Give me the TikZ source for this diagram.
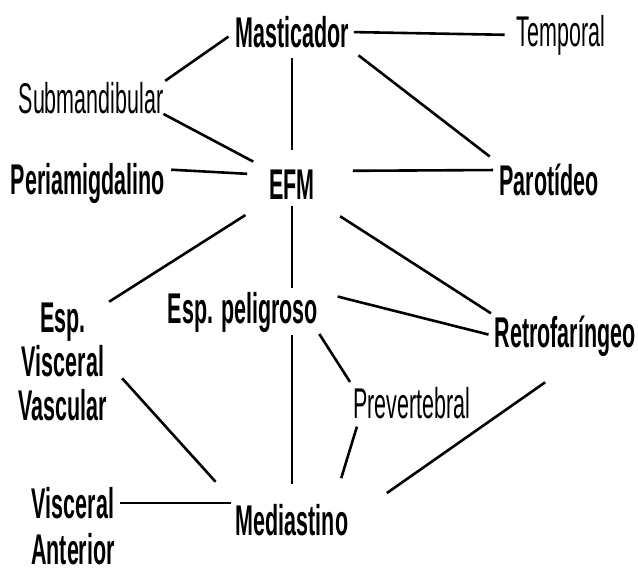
\documentclass[tikz,border=0pt]{standalone}
\usepackage{fontspec}
\setmainfont[FakeStretch=0.5]{Liberation Sans}
\usepackage{tikz}

\begin{document}
\begin{tikzpicture}[x=1pt,y=-1pt,
	lab/.style={inner sep=0pt,font=\fontsize{43}{44}\selectfont},
	blab/.style={lab,font=\fontsize{43}{44}\selectfont\bfseries},
	link/.style={line width=2.6pt}]
	\useasboundingbox (0,0) rectangle (638,574);
	% spaces
	\node[blab] (mast) at (292,32) {Masticador};
	\node[lab] (temp) at (561,35) {Temporal};
	\node[lab] (subm) at (91,98) {Submandibular};
	\node[blab] (peri) at (88,183) {Periamigdalino};
	\node[blab] (efm) at (292,185) {EFM};
	\node[blab] (paro) at (549,180) {Parotídeo};
	\node[blab] (pel) at (243,312) {Esp. peligroso};
	\node[blab] (retro) at (565,336) {Retrofaríngeo};
	\node[lab] (prev) at (412,403) {Prevertebral};
	\node[blab,align=center] (visc) at (63,362) {Esp.\\Visceral\\Vascular};
	\node[blab,align=center] (vant) at (73,526) {Visceral\\[2pt]Anterior};
	\node[blab] (medi) at (292,520) {Mediastino};
	% connections
	\draw[link,shorten <=5pt,shorten >=12pt] (mast.east) -- (temp.west);
	\draw[link,shorten <=8pt,shorten >=2pt] (mast.west) -- (subm.north east);
	\draw[link,shorten >=18pt] (subm.south east) -- (efm.north west);
	\draw[link,shorten <=6pt,shorten >=22pt] (peri.10) -- ([yshift=10pt]efm.west);
	\draw[link,shorten <=10pt,shorten >=20pt] (mast.south) -- (efm.north);
	\draw[link,shorten <=12pt,shorten >=12pt] (mast.south east) -- (paro.north west);
	\draw[link,shorten <=38pt,shorten >=6pt] ([yshift=14pt]efm.east) -- ([yshift=10pt]paro.west);
	\draw[link,shorten <=28pt,shorten >=2pt] (efm.south west) -- (visc.north east);
	\draw[link,shorten <=6pt,shorten >=4pt] (efm.south) -- (efm.south |- pel.north);
	\draw[link,shorten <=30pt,shorten >=4pt] (efm.south east) -- (retro.north west);
	\draw[link,shorten <=20pt,shorten >=6pt] (pel.north east) -- (retro.west);
	\draw[link,shorten <=2pt,shorten >=6pt] (pel.south east) -- (prev.north west);
	\draw[link,shorten <=3pt,shorten >=20pt] (pel.south -| medi.north) -- (medi.north);
	\draw[link,shorten <=22pt,shorten >=30pt] (visc.east) -- (medi.north west);
	\draw[link,shorten <=5pt,shorten >=5pt] ([yshift=23pt]vant.east) -- ([yshift=17pt]medi.west);
	\draw[link,shorten <=8pt,shorten >=27pt] ([xshift=6pt]prev.south west) -- ([xshift=-15pt]medi.north east);
	\draw[link,shorten <=45pt,shorten >=47pt] ([xshift=17pt]retro.south) -- (medi.east);
\end{tikzpicture}
\end{document}
